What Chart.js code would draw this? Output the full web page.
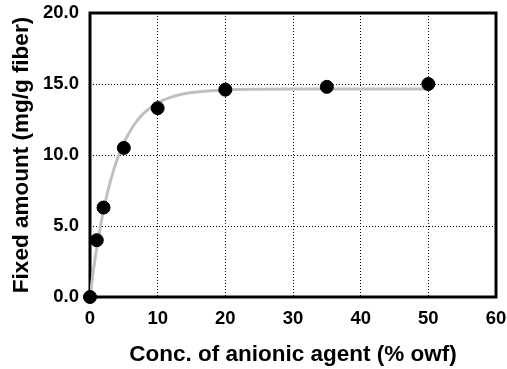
<!DOCTYPE html>
<html>
<head>
<meta charset="utf-8">
<script src="https://cdn.jsdelivr.net/npm/chart.js@4.4.0/dist/chart.umd.min.js"></script>
<style>
  html, body { margin: 0; padding: 0; background: #fff; }
  #wrap { width: 507px; height: 369px; }
</style>
</head>
<body>
<div id="wrap"><canvas id="myChart"></canvas></div>
<script>
// measured points
let concX = [0, 1, 2, 5, 10, 20, 35, 50];
let fixedY = [0, 4.0, 6.3, 10.5, 13.3, 14.6, 14.8, 15.0];
// gray fitted curve
let curveX = [0, 0.5, 1, 2, 3, 4, 5, 6, 7, 8, 10, 12, 15, 20, 25, 30, 40, 50];
let curveY = [0, 1.85, 3.47, 6.11, 8.13, 9.67, 10.85, 11.75, 12.44, 12.96, 13.67, 14.08, 14.40, 14.58, 14.63, 14.65, 14.65, 14.65];
let xTicks = [0, 10, 20, 30, 40, 50, 60];
let yTicks = [0, 5, 10, 15, 20];

let pts = concX.map((x, i) => ({ x: x, y: fixedY[i] }));
let curve = curveX.map((x, i) => ({ x: x, y: curveY[i] }));

const font = 'Arial, "Liberation Sans", sans-serif';

// frame round the plot area
const framePlugin = {
  id: 'frame',
  beforeDatasetsDraw(chart) {
    const a = chart.chartArea;
    const ctx = chart.ctx;
    ctx.save();
    ctx.strokeStyle = '#000';
    ctx.lineWidth = 3;
    ctx.strokeRect(a.left, a.top, a.right - a.left, a.bottom - a.top);
    ctx.restore();
  }
};

let chart = new Chart(document.getElementById('myChart'), {
  type: 'scatter',
  data: {
    datasets: [{
      type: 'line',
      data: curve,
      borderColor: '#c0c0c0',
      borderWidth: 3,
      pointRadius: 0,
      cubicInterpolationMode: 'monotone',
      fill: false,
      order: 2
    }, {
      data: pts,
      backgroundColor: '#000',
      borderColor: '#000',
      pointRadius: 6.5,
      clip: false,
      order: 1
    }]
  },
  options: {
    responsive: true,
    maintainAspectRatio: false,
    animation: false,
    layout: { padding: { top: 13, right: 11, left: 0, bottom: 0 } },
    plugins: { legend: { display: false }, tooltip: { enabled: false } },
    scales: {
      x: {
        type: 'linear',
        min: 0,
        max: 60,
        afterBuildTicks: (s) => { s.ticks = xTicks.map(v => ({ value: v })); },
        afterFit: (s) => { s.height = 72; s.paddingLeft = 0; s.paddingRight = 0; },
        border: { display: false, dash: [1, 2] },
        grid: { color: '#000', lineWidth: 1, drawTicks: false },
        ticks: { color: '#000', font: { family: font, weight: 'bold', size: 18.5 }, padding: 11, maxRotation: 0 },
        title: {
          display: true,
          text: 'Conc. of anionic agent (% owf)',
          color: '#000',
          font: { family: font, weight: 'bold', size: 22.5 },
          padding: { top: 0, bottom: 1 }
        }
      },
      y: {
        type: 'linear',
        min: 0,
        max: 20,
        afterBuildTicks: (s) => { s.ticks = yTicks.map(v => ({ value: v })); },
        afterFit: (s) => { s.width = 90; s.paddingTop = 0; s.paddingBottom = 0; },
        border: { display: false, dash: [1, 2] },
        grid: { color: '#000', lineWidth: 1, drawTicks: false },
        ticks: {
          color: '#000',
          font: { family: font, weight: 'bold', size: 18.5 },
          padding: 11,
          callback: (v) => v.toFixed(1)
        },
        title: {
          display: true,
          text: 'Fixed amount (mg/g fiber)',
          color: '#000',
          font: { family: font, weight: 'bold', size: 22.5 },
          padding: { top: 8, bottom: 0 }
        }
      }
    }
  },
  plugins: [framePlugin]
});
</script>
</body>
</html>
